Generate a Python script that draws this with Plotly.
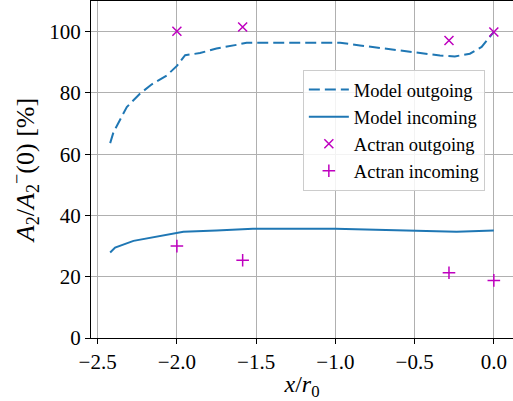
import plotly.graph_objects as go

# Model outgoing (dashed)
model_out_x = [-2.421, -2.40, -2.316, -2.232, -2.158, -2.064, -2.0, -1.948, -1.854, -1.75,
               -1.622, -1.56, -1.3, -0.97, -0.845, -0.635, -0.487, -0.34, -0.246, -0.151,
               -0.077, 0.0]
model_out_y = [63.6, 67.2, 75.4, 79.8, 82.8, 85.7, 88.8, 92.3, 93.0, 94.5,
               95.7, 96.4, 96.4, 96.4, 95.5, 94.1, 93.3, 92.2, 91.9, 92.8,
               95.0, 99.9]

# Model incoming (solid)
model_in_x = [-2.421, -2.39, -2.274, -2.127, -1.959, -1.75, -1.52, -1.0, -0.74, -0.487, -0.235, 0.0]
model_in_y = [27.9, 29.5, 31.7, 33.2, 34.7, 35.1, 35.7, 35.7, 35.4, 35.05, 34.7, 35.1]

# Actran points
actran_x = [-2.0, -1.585, -0.283, 0.0]
actran_out_y = [100.1, 101.5, 97.1, 99.9]
actran_in_y = [30.0, 25.4, 21.3, 18.8]

x_ticks = [-2.5, -2.0, -1.5, -1.0, -0.5, 0.0]
y_ticks = [0, 20, 40, 60, 80, 100]

blue = "#1f77b4"
mag = "#bf00bf"
FONT = "Liberation Serif"

fig = go.Figure()
fig.add_trace(go.Scatter(x=model_out_x, y=model_out_y, mode="lines", name="Model outgoing",
                         line=dict(color=blue, width=2, dash="11px,5px")))
fig.add_trace(go.Scatter(x=model_in_x, y=model_in_y, mode="lines", name="Model incoming",
                         line=dict(color=blue, width=2)))
fig.add_trace(go.Scatter(x=actran_x, y=actran_out_y, mode="markers", name="Actran outgoing",
                         marker=dict(symbol="x-thin", size=9, color=mag,
                                     line=dict(color=mag, width=1.5))))
fig.add_trace(go.Scatter(x=actran_x, y=actran_in_y, mode="markers", name="Actran incoming",
                         marker=dict(symbol="cross-thin", size=9, color=mag,
                                     line=dict(color=mag, width=1.5))))

fig.update_layout(
    width=513, height=401,
    margin=dict(l=91, r=0, t=1, b=63, pad=0, autoexpand=False),
    plot_bgcolor="white", paper_bgcolor="white",
    font=dict(family=FONT, size=21, color="black"),
    showlegend=True,
    legend=dict(x=0.502, y=0.795, xanchor="left", yanchor="top",
                bgcolor="rgba(255,255,255,0.85)", bordercolor="#cccccc", borderwidth=1,
                font=dict(family=FONT, size=18.5), itemwidth=40, tracegroupgap=0),
)
fig.update_xaxes(range=[-2.542, 0.121], tickvals=x_ticks,
                 ticktext=[f"{v:.1f}".replace("-", "\u2212") for v in x_ticks],
                 showgrid=True, gridcolor="#b0b0b0", gridwidth=1, automargin=False,
                 showline=True, linecolor="black", linewidth=1.2, mirror=True,
                 ticks="outside", ticklen=5, tickcolor="black", zeroline=False,
                 title=dict(text="<i>x</i>/<i>r</i><sub>0</sub>", font=dict(size=24), standoff=4))
fig.update_yaxes(range=[0, 110], tickvals=y_ticks,
                 showgrid=True, gridcolor="#b0b0b0", gridwidth=1, automargin=False,
                 showline=True, linecolor="black", linewidth=1.2, mirror=True,
                 ticks="outside", ticklen=5, tickcolor="black", zeroline=False,
                 title=dict(text="<i>A</i><sub>2</sub>/<i>A</i><sub>2</sub><sup>\u2212</sup>(0) [%]",
                            font=dict(size=26), standoff=7))

fig.write_html("out.html", config={"displayModeBar": False},
               post_script="document.body.style.margin='0px';document.body.style.overflow='hidden';")
